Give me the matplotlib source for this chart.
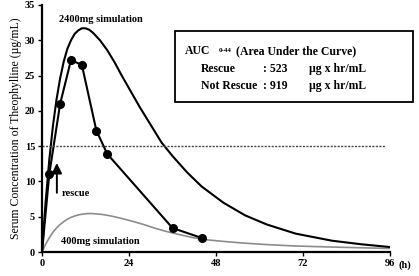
import numpy as np
import matplotlib
matplotlib.use("Agg")
import matplotlib.pyplot as plt
from matplotlib.patches import Rectangle

plt.rcParams['font.family'] = ['Liberation Serif', 'DejaVu Serif']
plt.rcParams['font.weight'] = 'bold'

# measured serum levels (rescue case)
t_meas = [0, 2, 5, 8, 11, 15, 18, 36, 44]
c_meas = [0, 11.0, 21.0, 27.2, 26.5, 17.2, 13.9, 3.4, 2.0]

# 2400mg simulation
t_2400 = [0, 1, 2, 3, 4, 5, 6, 7, 8, 9, 10, 11, 12, 13, 14, 16, 18, 20, 22, 24, 27,
          30, 33, 36, 40, 44, 50, 56, 62, 70, 80, 88, 96]
c_2400 = [0, 7.1, 13.0, 17.8, 21.6, 24.6, 27.0, 28.8, 30.0, 30.9, 31.4, 31.7, 31.7, 31.5,
          31.1, 30.0, 28.6, 26.9, 25.0, 23.2, 20.5, 18.0, 15.5, 13.6, 11.3, 9.3, 7.0, 5.2,
          3.9, 2.6, 1.6, 1.1, 0.7]

# 400mg simulation
t_400 = [0, 1, 2, 3, 4, 5, 6, 7, 8, 9, 10, 11, 12, 13, 14, 15, 16.6, 18, 20, 22, 25,
         28, 31, 34, 38, 42, 46, 50, 56, 62, 70, 80, 88, 96]
c_400 = [0, 1.1, 2.0, 2.8, 3.4, 3.9, 4.3, 4.65, 4.9, 5.1, 5.25, 5.35, 5.42, 5.45, 5.44,
         5.4, 5.32, 5.2, 5.0, 4.75, 4.35, 3.9, 3.4, 2.95, 2.45, 2.0, 1.7, 1.5, 1.25, 1.05,
         0.85, 0.7, 0.6, 0.5]

threshold = 15
x_ticks = [0, 24, 48, 72, 96]
y_ticks = [0, 5, 10, 15, 20, 25, 30, 35]

W, H = 419, 276
fig = plt.figure(figsize=(4.19, 2.76), dpi=100)
ax = fig.add_axes([42 / W, 24 / H, 348 / W, 247 / H])

ax.plot(t_400, c_400, color="#8c8c8c", lw=1.2)
ax.plot(t_2400, c_2400, color="black", lw=1.5)
# line starts at the origin, dots only on the sampled points
ax.plot(t_meas, c_meas, color="black", lw=1.5, marker="o", ms=5.5,
        markevery=list(range(1, len(t_meas))))
ax.plot([0, 94.7], [threshold, threshold], color="#444444", lw=1.0, ls=(0, (1.5, 1)))

ax.set_xlim(0, 96)
ax.set_ylim(0, 35)
ax.set_xticks(x_ticks)
ax.set_yticks(y_ticks)
ax.tick_params(labelsize=7.5, length=3, width=1, pad=2)
for s in ["top", "right"]:
    ax.spines[s].set_visible(False)
for s in ["left", "bottom"]:
    ax.spines[s].set_linewidth(1.6)
    ax.spines[s].set_clip_on(False)

ax.set_ylabel("Serum Concentration of Theophylline (\u00b5g/mL)", fontsize=8.5, labelpad=2)
fig.text(398 / W, 0.04, "(h)", fontsize=7.5, ha="left", va="center")

ax.text(16.3, 32.9, "2400mg simulation", fontsize=7.5, ha="center", va="center")
ax.text(5.3, 1.5, "400mg simulation", fontsize=7.5, ha="left", va="center")

# rescue arrow
ax.annotate("", xy=(4.1, 13.0), xytext=(4.1, 8.0),
            arrowprops=dict(arrowstyle="-|>,head_width=0.3,head_length=0.6", color="black", lw=1.4))
ax.text(5.5, 8.3, "rescue", fontsize=7.5, ha="left", va="center")

# AUC box (figure pixels -> fraction)
fig.patches.append(Rectangle((175 / W, 1 - 102 / H), (413 - 175) / W, (102 - 31) / H,
                             transform=fig.transFigure, fill=False, ec="black", lw=1.3))
fs = 8.5
fig.text(185 / W, 1 - 51 / H, "AUC", fontsize=fs, va="center")
fig.text(219 / W, 1 - 50 / H, "0-44", fontsize=5, va="center")
fig.text(236 / W, 1 - 51 / H, "(Area Under the Curve)", fontsize=fs, va="center")
fig.text(201 / W, 1 - 69 / H, "Rescue", fontsize=fs, va="center")
fig.text(201 / W, 1 - 86 / H, "Not Rescue", fontsize=fs, va="center")
fig.text(263 / W, 1 - 69 / H, ": 523", fontsize=fs, va="center")
fig.text(263 / W, 1 - 86 / H, ": 919", fontsize=fs, va="center")
fig.text(309 / W, 1 - 69 / H, "\u00b5g x hr/mL", fontsize=fs, va="center")
fig.text(309 / W, 1 - 86 / H, "\u00b5g x hr/mL", fontsize=fs, va="center")

fig.savefig("out.png", dpi=100)
